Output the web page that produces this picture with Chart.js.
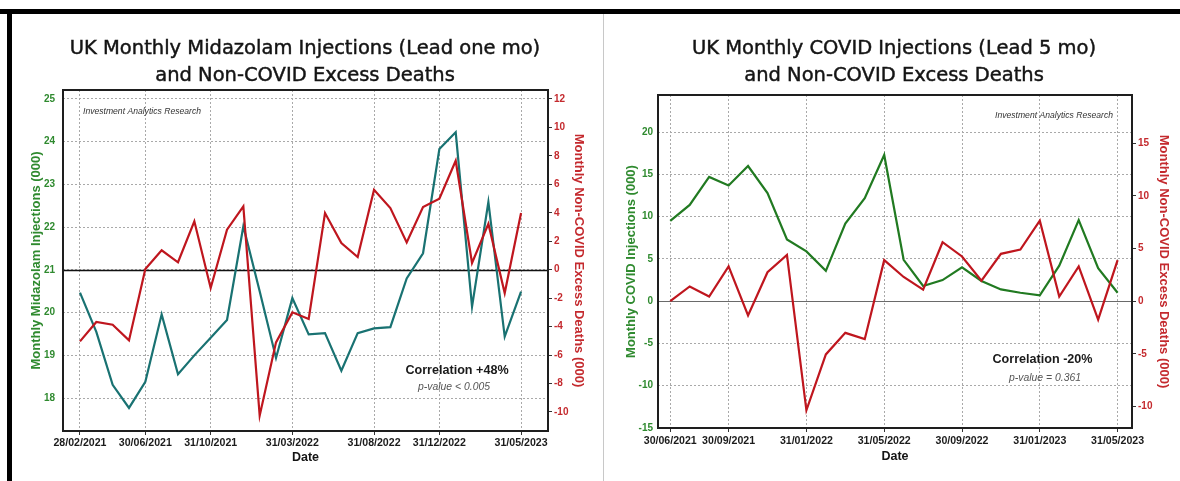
<!DOCTYPE html>
<html>
<head>
<meta charset="utf-8">
<script src="https://cdn.jsdelivr.net/npm/chart.js@4.4.1/dist/chart.umd.min.js"></script>
<style>
html,body{margin:0;padding:0;background:#fff;}
#wrap{position:relative;width:1180px;height:481px;overflow:hidden;background:#fff;}
.bar{position:absolute;background:#000;}
</style>
</head>
<body>
<div id="wrap">
  <div style="position:absolute;left:0;top:0;width:600px;height:481px"><canvas id="c1" width="600" height="481"></canvas></div>
  <div style="position:absolute;left:600px;top:0;width:580px;height:481px"><canvas id="c2" width="580" height="481"></canvas></div>
  <div class="bar" style="left:0;top:9px;width:1180px;height:5px"></div>
  <div class="bar" style="left:7px;top:9px;width:5px;height:472px"></div>
  <div style="position:absolute;left:603px;top:14px;width:1px;height:467px;background:#c8c8c8"></div>
</div>
<script>
// ---------------- DATA ----------------
// Left chart: UK Monthly Midazolam Injections (lead one month) vs Non-COVID excess deaths
const leftDates = ['28/02/2021','31/03/2021','30/04/2021','31/05/2021','30/06/2021','31/07/2021','31/08/2021','30/09/2021',
  '31/10/2021','30/11/2021','31/12/2021','31/01/2022','28/02/2022','31/03/2022','30/04/2022','31/05/2022','30/06/2022',
  '31/07/2022','31/08/2022','30/09/2022','31/10/2022','30/11/2022','31/12/2022','31/01/2023','28/02/2023','31/03/2023',
  '30/04/2023','31/05/2023'];
const leftMidazolam = [20.47, 19.55, 18.31, 17.77, 18.38, 19.96, 18.56, 19.0, 19.41, 19.83, 22.02, 20.5, 18.94, 20.34,
  19.49, 19.52, 18.64, 19.52, 19.63, 19.66, 20.8, 21.39, 23.83, 24.22, 20.14, 22.59, 19.44, 20.49];
const leftDeaths = [-5.04, -3.68, -3.87, -4.97, 0.05, 1.36, 0.52, 3.4, -1.29, 2.81, 4.45, -10.26, -5.11, -3.0, -3.47,
  3.98, 1.87, 0.89, 5.62, 4.33, 1.92, 4.4, 4.99, 7.66, 0.47, 3.23, -1.64, 3.98];
const leftXTickIdx = [0, 4, 8, 13, 18, 22, 27];
const leftYTicks = [18, 19, 20, 21, 22, 23, 24, 25];
const leftY1Ticks = [-10, -8, -6, -4, -2, 0, 2, 4, 6, 8, 10, 12];
const leftRefValue = 21;

// Right chart: UK Monthly COVID Injections (lead 5 months) vs Non-COVID excess deaths
const rightDates = ['30/06/2021','31/07/2021','31/08/2021','30/09/2021','31/10/2021','30/11/2021','31/12/2021',
  '31/01/2022','28/02/2022','31/03/2022','30/04/2022','31/05/2022','30/06/2022','31/07/2022','31/08/2022','30/09/2022',
  '31/10/2022','30/11/2022','31/12/2022','31/01/2023','28/02/2023','31/03/2023','30/04/2023','31/05/2023'];
const rightCovid = [9.5, 11.4, 14.7, 13.7, 16.0, 12.8, 7.3, 5.9, 3.6, 9.2, 12.2, 17.3, 4.9, 1.8, 2.5, 4.0, 2.4, 1.4,
  1.0, 0.7, 4.2, 9.6, 3.9, 1.0];
const rightDeaths = [0.0, 1.4, 0.45, 3.3, -1.35, 2.75, 4.4, -10.35, -5.05, -3.0, -3.6, 3.9, 2.3, 1.1, 5.6, 4.25, 1.95,
  4.5, 4.9, 7.65, 0.45, 3.3, -1.75, 3.9];
const rightXTickIdx = [0, 3, 7, 11, 15, 19, 23];
const rightYTicks = [-15, -10, -5, 0, 5, 10, 15, 20];
const rightY1Ticks = [-10, -5, 0, 5, 10, 15];
const rightRefValue = 0;

// ---------------- STYLE ----------------
const GREEN_TXT = '#2f8a2f';
const RED_TXT = '#c42a2e';
const TEAL_LINE = '#197272';
const GREEN_LINE = '#217a21';
const RED_LINE = '#bf161e';
const GRID = '#a9a9a9';
const LAB = '"Liberation Sans", Arial, sans-serif';

function decorPlugin(cfg) {
  return {
    id: 'decor',
    beforeDatasetsDraw(chart) {
      const {ctx, chartArea: a, scales} = chart;
      const y = Math.round(scales.y.getPixelForValue(cfg.refValue)) + 0.5;
      ctx.save();
      ctx.strokeStyle = cfg.refColor;
      ctx.lineWidth = cfg.refWidth;
      ctx.beginPath(); ctx.moveTo(a.left, y); ctx.lineTo(a.right, y); ctx.stroke();
      ctx.restore();
    },
    afterDraw(chart) {
      const {ctx, chartArea: a} = chart;
      ctx.save();
      ctx.strokeStyle = '#1e1e1e';
      ctx.lineWidth = 2;
      ctx.strokeRect(a.left, a.top, a.right - a.left, a.bottom - a.top);
      ctx.fillStyle = '#141414';
      ctx.strokeStyle = '#141414';
      ctx.lineWidth = 0.45;
      ctx.textAlign = 'center';
      ctx.textBaseline = 'alphabetic';
      ctx.font = '19.5px "DejaVu Sans", sans-serif';
      ctx.fillText(cfg.title[0], cfg.titleX, 54);
      ctx.strokeText(cfg.title[0], cfg.titleX, 54);
      ctx.fillText(cfg.title[1], cfg.titleX, 81);
      ctx.strokeText(cfg.title[1], cfg.titleX, 81);
      ctx.textBaseline = 'middle';
      ctx.font = 'italic 8.6px ' + LAB;
      ctx.fillStyle = '#333';
      ctx.textAlign = cfg.wmAlign;
      ctx.fillText('Investment Analytics Research', cfg.wmX, cfg.wmY);
      ctx.textAlign = 'center';
      ctx.font = 'bold 12.6px ' + LAB;
      ctx.fillStyle = '#1a1a1a';
      ctx.fillText(cfg.corr, cfg.corrX, cfg.corrY);
      ctx.font = 'italic 10.4px ' + LAB;
      ctx.fillStyle = '#555';
      ctx.fillText(cfg.pval, cfg.pX, cfg.pY);
      ctx.restore();
    }
  };
}

function makeChart(canvasId, o) {
  const fixTicks = arr => s => { s.ticks = arr.map(v => ({value: v})); };
  return new Chart(document.getElementById(canvasId), {
    type: 'line',
    data: {
      datasets: [
        {label: o.s2name, data: o.s2.map((v, i) => ({x: i, y: v})), yAxisID: 'y1', borderColor: RED_LINE,
         borderWidth: 2.2, pointRadius: 0, tension: 0, fill: false},
        {label: o.s1name, data: o.s1.map((v, i) => ({x: i, y: v})), yAxisID: 'y', borderColor: o.s1color,
         borderWidth: 2.2, pointRadius: 0, tension: 0, fill: false}
      ]
    },
    options: {
      responsive: false,
      animation: false,
      devicePixelRatio: 1,
      layout: {padding: {top: o.top, left: 0, right: 0, bottom: 0}},
      plugins: {legend: {display: false}, tooltip: {enabled: false}},
      scales: {
        x: {
          type: 'linear', min: o.xmin, max: o.xmax,
          afterBuildTicks: fixTicks(o.xTicks),
          afterFit: s => { s.height = o.xh; },
          ticks: {callback: v => o.dates[v], color: '#1b1b1b', font: {family: LAB, weight: 'bold', size: 10.6},
                  padding: o.xpad, maxRotation: 0, autoSkip: false},
          grid: {color: GRID, lineWidth: 1, drawTicks: true, tickLength: 4, tickColor: '#333', tickWidth: 1},
          border: {display: false, dash: [2, 2]},
          title: {display: true, text: 'Date', color: '#141414', font: {family: LAB, weight: 'bold', size: 12.5},
                  padding: {top: 0, bottom: o.dateBottom}}
        },
        y: {
          position: 'left', min: o.ymin, max: o.ymax,
          afterBuildTicks: fixTicks(o.yTicks),
          afterFit: s => { s.width = o.yw; },
          ticks: {color: GREEN_TXT, font: {family: LAB, weight: 'bold', size: 10}, padding: o.ypad},
          grid: {color: GRID, lineWidth: 1, drawTicks: false},
          border: {display: false, dash: [2, 2]},
          title: {display: true, text: o.yTitle, color: GREEN_TXT, font: {family: LAB, weight: 'bold', size: 13},
                  padding: {top: o.yTitlePad, bottom: 0}}
        },
        y1: {
          position: 'right', min: o.y1min, max: o.y1max,
          afterBuildTicks: fixTicks(o.y1Ticks),
          afterFit: s => { s.width = o.y1w; },
          ticks: {color: RED_TXT, font: {family: LAB, weight: 'bold', size: 10}, padding: 2},
          grid: {drawOnChartArea: false, drawTicks: true, tickLength: 4, tickColor: '#333', tickWidth: 1},
          border: {display: false},
          title: {display: true, text: 'Monthly Non-COVID Excess Deaths (000)', color: RED_TXT,
                  font: {family: LAB, weight: 'bold', size: 13}, padding: {top: o.y1TitlePad, bottom: 0}}
        }
      }
    },
    plugins: [decorPlugin(o.decor)]
  });
}

makeChart('c1', {
  s1: leftMidazolam, s1name: 'Midazolam Injections', s1color: TEAL_LINE,
  s2: leftDeaths, s2name: 'Non-COVID Excess Deaths',
  dates: leftDates, xTicks: leftXTickIdx, yTicks: leftYTicks, y1Ticks: leftY1Ticks,
  top: 90, xh: 50, yw: 63, y1w: 52,
  xmin: -1.04, xmax: 28.65, ymin: 17.23, ymax: 25.21, y1min: -11.34, y1max: 12.63,
  xpad: 2, ypad: 8, dateBottom: 15.5, yTitlePad: 28.7, y1TitlePad: 13.9,
  yTitle: 'Monthly Midazolam Injections (000)',
  decor: {refValue: leftRefValue, refColor: '#111', refWidth: 1.6,
    title: ['UK Monthly Midazolam Injections (Lead one mo)', 'and Non-COVID Excess Deaths'], titleX: 305,
    wmX: 83, wmY: 112, wmAlign: 'left',
    corr: 'Correlation +48%', corrX: 457, corrY: 371, pval: 'p-value < 0.005', pX: 454, pY: 387}
});

makeChart('c2', {
  s1: rightCovid, s1name: 'COVID Injections', s1color: GREEN_LINE,
  s2: rightDeaths, s2name: 'Non-COVID Excess Deaths',
  dates: rightDates, xTicks: rightXTickIdx, yTicks: rightYTicks, y1Ticks: rightY1Ticks,
  top: 95, xh: 53, yw: 58, y1w: 48,
  xmin: -0.63, xmax: 23.74, ymin: -15, ymax: 24.4, y1min: -12.03, y1max: 19.57,
  xpad: 3, ypad: 5, dateBottom: 16.5, yTitlePad: 23.2, y1TitlePad: 8.9,
  yTitle: 'Monthly COVID Injections (000)',
  decor: {refValue: rightRefValue, refColor: '#6a6a6a', refWidth: 1.2,
    title: ['UK Monthly COVID Injections (Lead 5 mo)', 'and Non-COVID Excess Deaths'], titleX: 294,
    wmX: 513, wmY: 115.7, wmAlign: 'right',
    corr: 'Correlation -20%', corrX: 442.5, corrY: 360, pval: 'p-value = 0.361', pX: 445, pY: 377.7}
});
</script>
</body>
</html>
